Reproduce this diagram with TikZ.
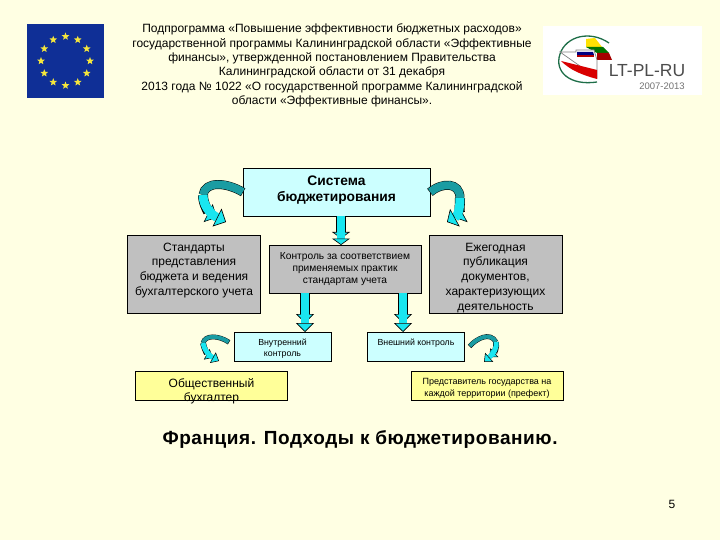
\documentclass[tikz,border=0pt]{standalone}
\usepackage{fontspec}
\setmainfont{Liberation Sans}
\usetikzlibrary{positioning,shapes.geometric,arrows.meta,calc}
\definecolor{slidebg}{HTML}{FFFFE3}
\definecolor{palecyan}{HTML}{CCFFFF}
\definecolor{paleyellow}{HTML}{FFFF99}
\definecolor{boxgray}{HTML}{C0C0C0}
\definecolor{arrowcyan}{HTML}{19E6F0}
\definecolor{arrowteal}{HTML}{1A9CA2}
\definecolor{euflag}{HTML}{0F2F96}
\definecolor{eustar}{HTML}{F5E63C}
\definecolor{logogreen}{HTML}{1E6E48}

\begin{document}
\begin{tikzpicture}[
    x=1pt,y=-1pt,
    box/.style={rectangle,draw,line width=.7pt,align=center,inner sep=0pt},
    sysbox/.style={box,fill=palecyan,minimum width=187pt,minimum height=48pt,font=\fontsize{13.8}{16}\selectfont\bfseries},
    graybox/.style={box,fill=boxgray,minimum width=133pt,minimum height=78pt,font=\fontsize{12}{14.8}\selectfont},
    ctrlbox/.style={box,fill=boxgray,minimum width=152pt,minimum height=48pt,font=\fontsize{10.2}{12}\selectfont},
    cyanbox/.style={box,fill=palecyan,minimum width=97pt,minimum height=29pt,font=\fontsize{8.8}{11}\selectfont},
    yellowbox/.style={box,fill=paleyellow,minimum width=152pt,minimum height=29pt,font=\fontsize{9}{12}\selectfont},
    blockarrow/.style={line width=8pt,draw=arrowcyan,
        preaction={draw=black,line width=9.4pt,shorten >=#1},
        -{Triangle[length=#1,width=18pt,fill=arrowcyan,color=black,line width=.6pt]}},
    bendstart/.style={line width=8pt,draw=arrowteal,
        preaction={draw=black,line width=9pt,shorten <=-.5pt}},
    bendend/.style={line width=9pt,draw=arrowcyan,
        preaction={draw=black,line width=10pt,shorten >=#1},
        -{Triangle[length=#1,width=20pt,fill=arrowcyan,color=black,line width=.6pt]}},
    smallstart/.style={line width=4pt,draw=arrowteal,
        preaction={draw=black,line width=4.8pt,shorten <=-.5pt}},
    smallend/.style={line width=5pt,draw=arrowcyan,
        preaction={draw=black,line width=5.8pt,shorten >=7pt},
        -{Triangle[length=7pt,width=12pt,fill=arrowcyan,color=black,line width=.5pt]}},
    titletext/.style={align=center,font=\fontsize{12}{14.4}\selectfont,inner sep=0pt},
    eustarnode/.style={star,star points=5,star point ratio=2.3,fill=eustar,inner sep=0pt,minimum size=8pt},
]

% ===== Slide background =====
\useasboundingbox[fill=slidebg] (0,0) rectangle (720,540);

% ===== Title =====
\node[titletext] (title) at (332,65.5) {
    Подпрограмма «Повышение эффективности бюджетных расходов»\\
    государственной программы Калининградской области «Эффективные\\
    финансы», утвержденной постановлением Правительства\\
    Калининградской области от 31 декабря\\
    2013 года № 1022 «О государственной программе Калининградской\\
    области «Эффективные финансы».
};

% ===== EU flag =====
\node[rectangle,fill=euflag,minimum width=77pt,minimum height=74pt,inner sep=0pt] (flag) at (65.5,61) {};
\foreach \a in {0,30,...,330}
    \node[eustarnode] (star\a) at ($(flag.center)+(\a:24.5)$) {};

% ===== Logo =====
\node[rectangle,fill=white,minimum width=159pt,minimum height=69pt,inner sep=0pt] (logo) at (622.5,60.5) {};
\draw[logogreen,line width=1.3pt] (609,43) .. controls (590,30) and (566,36) .. (560,54) .. controls (554,72) and (570,86) .. (597,82);
\fill[yellow!85!orange] (586,39) -- (595,38) -- (602,47) -- (586,47) -- cycle;
\fill[green!45!black] (586,47) -- (603,47) -- (609,53) -- (597,53) -- cycle;
\fill[red!65!black] (597,53) -- (609,53) -- (612,60) -- (597,60) -- cycle;
\draw[gray,line width=.7pt,fill=white] (560,52) -- (576,52) -- (576,50) -- (594,50) -- (597,60) -- (597,78) -- cycle;
\fill[blue!50!black] (577,52) -- (593,52) -- (594,55) -- (577,55) -- cycle;
\fill[red!70!black] (577,55) -- (594,55) -- (594,57) -- (577,57) -- cycle;
\fill[red!85!black] (561,61) -- (597,70) -- (597,79) .. controls (582,75) and (570,70) .. (561,61) -- cycle;
\node[font=\fontsize{17.5}{18}\selectfont,text=gray!60!black,inner sep=0pt] (logoname) at (647,71) {LT-PL-RU};
\node[font=\fontsize{9.5}{10}\selectfont,text=gray!90!black,inner sep=0pt] (logoyears) at (662,86.5) {2007-2013};

% ===== Boxes =====
\node[sysbox] (sys) at (336.5,192) {Система\\бюджетирования\\[-10pt]\mbox{}};
\node[graybox] (std) at (194,274) {Стандарты\\представления\\бюджета и ведения\\бухгалтерского учета\\[-5pt]\mbox{}};
\node[ctrlbox] (ctrl) at (345,269) {Контроль за соответствием\\применяемых практик\\стандартам учета};
\node[graybox] (pub) at (495.5,274) {\mbox{}\\[.8pt]Ежегодная\\публикация\\документов,\\характеризующих\\деятельность};
\node[cyanbox] (int) at (282.5,346.5) {\mbox{}\\[-.5pt]Внутренний\\контроль};
\node[cyanbox] (ext) at (416,346.5) {Внешний контроль\\[-2pt]\mbox{}};
\node[yellowbox] (acc) at (211.5,385.5) {};
\node[align=center,font=\fontsize{12}{14}\selectfont,inner sep=0pt] (acctext) at (211.5,391) {Общественный\\бухгалтер};
\node[yellowbox] (pref) at (487,385.5) {\mbox{}\\[.5pt]Представитель государства на\\каждой территории (префект)};

% ===== Straight arrows =====
\coordinate (ctrlin) at (341,245);
\coordinate (intin) at (305,332);
\coordinate (extin) at (403,332);
\draw[blockarrow=6.5pt] (sys.south -| ctrlin) -- (ctrlin);
\draw[blockarrow=9pt] (ctrl.south -| intin) -- (intin);
\draw[blockarrow=9pt] (ctrl.south -| extin) -- (extin);

% ===== Curved arrows =====
\coordinate (stdbend) at (203,195);
\coordinate (stdin) at (226,222);
\draw[bendstart] (sys.west) .. controls (226,182) and (205,181) .. (stdbend);
\draw[bendend=10pt] (stdbend) .. controls (203,205) and (210,214) .. (stdin);

\coordinate (pubbend) at (460,198);
\coordinate (pubin) at (447,222);
\draw[bendstart] (sys.east) .. controls (442,182) and (460,182) .. (pubbend);
\draw[bendend=9pt] (pubbend) .. controls (460,208) and (458,216) .. (pubin);

\coordinate (accbend) at (203,343);
\coordinate (accin) at (219,361);
\draw[smallstart] (int.west) ++(-5,-4.5) .. controls (218,335) and (205,335) .. (accbend);
\draw[smallend] (accbend) .. controls (204,349) and (208,355) .. (accin);

\coordinate (prefbend) at (496,342);
\coordinate (prefin) at (484,362);
\draw[smallstart] (ext.east) ++(5,-.5) .. controls (476,339) and (490,331) .. (prefbend);
\draw[smallend] (prefbend) .. controls (497,348) and (494,353) .. (prefin);

% ===== Caption and page number =====
\node[font=\fontsize{19}{20}\selectfont\bfseries\addfontfeature{LetterSpace=3},inner sep=0pt] (caption) at (360,440) {Франция. Подходы к бюджетированию.};
\node[font=\fontsize{12}{14}\selectfont,inner sep=0pt] (pagenum) at (672,504) {5};

\end{tikzpicture}
\end{document}
